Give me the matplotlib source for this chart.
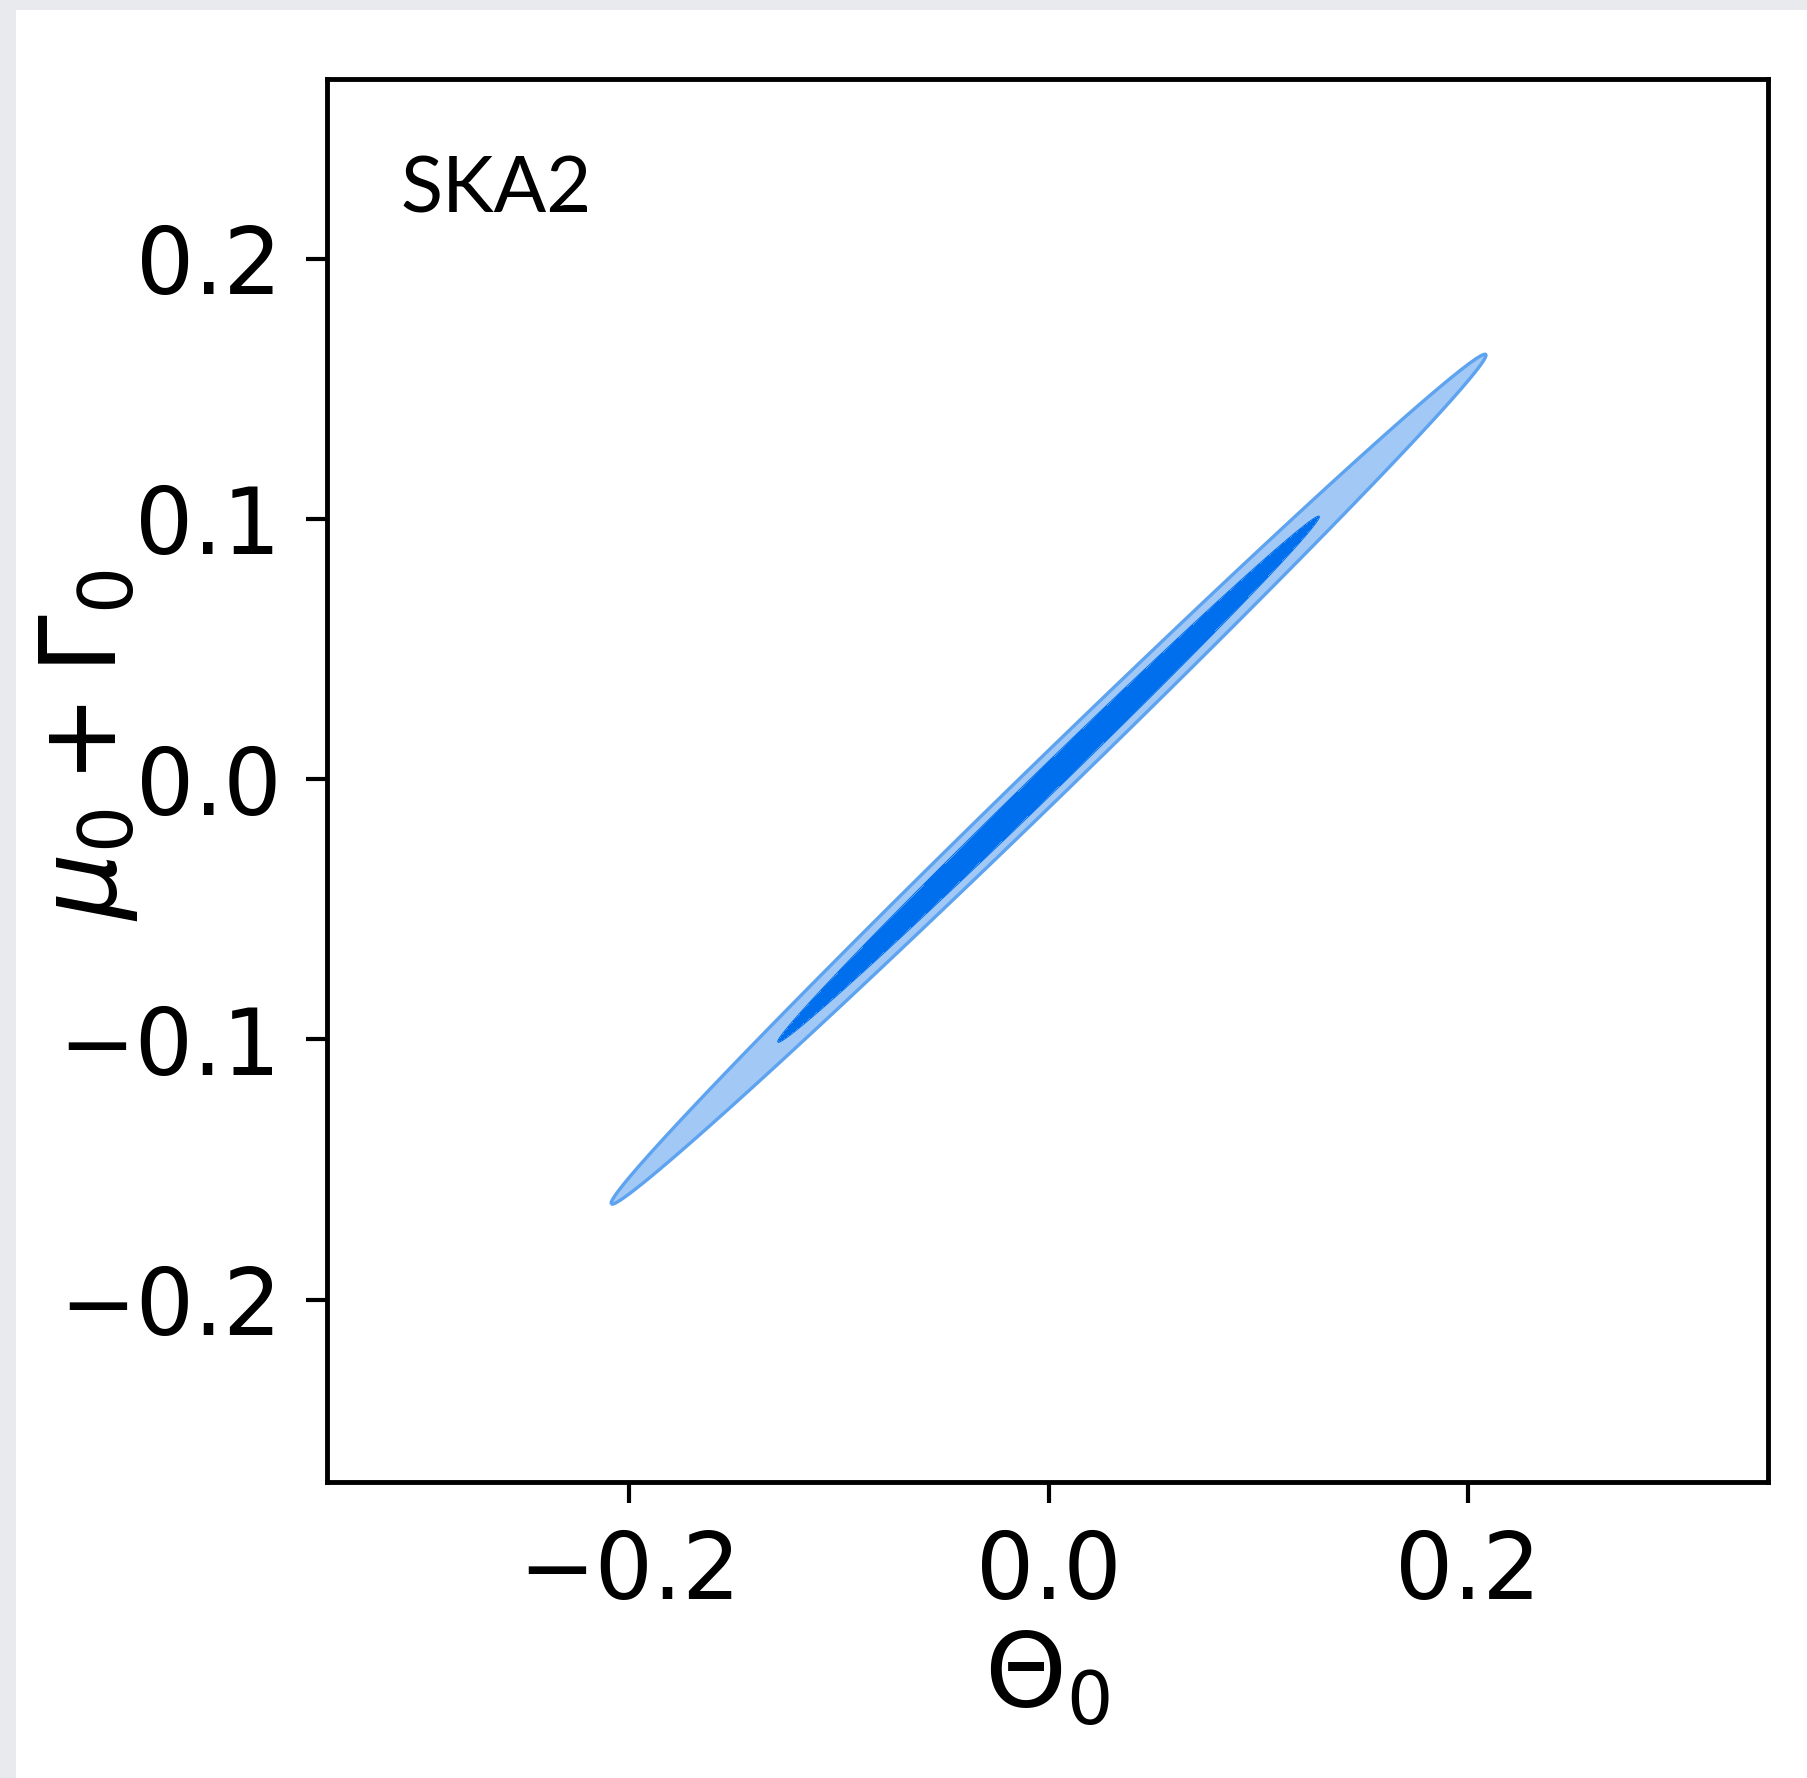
#!/usr/bin/env python3

import numpy as np
import matplotlib
matplotlib.use("Agg")
import matplotlib.pyplot as plt
from matplotlib.patches import Rectangle

# forecast (Fisher) constraint
center = [0.0, 0.0]          # Theta_0, mu_0 + Gamma_0
sigma_theta = 0.0852
sigma_mugamma = 0.0667
corr = 0.9977
chi2_levels = [0.0, 2.2958, 5.9915]   # 68% / 95% for 2 params

survey = "SKA2"
xticks = [-0.2, 0.0, 0.2]
yticks = [-0.2, -0.1, 0.0, 0.1, 0.2]
xlim = (-0.344, 0.343)
ylim = (-0.270, 0.269)

inner_color = "#006FED"
outer_color = "#a2c8f6"
edge_color = "#5ea3ef"


def chi2_grid(x, y):
    cov = np.array([[sigma_theta ** 2, corr * sigma_theta * sigma_mugamma],
                    [corr * sigma_theta * sigma_mugamma, sigma_mugamma ** 2]])
    icov = np.linalg.inv(cov)
    dx = x - center[0]
    dy = y - center[1]
    return icov[0, 0] * dx ** 2 + 2 * icov[0, 1] * dx * dy + icov[1, 1] * dy ** 2


def prepare_ax(ax):
    for sp in ax.spines.values():
        sp.set_linewidth(3.5)
    ax.tick_params(length=15, width=3.0, labelsize=66, pad=18)
    ax.set_xticks(xticks)
    ax.set_yticks(yticks)
    ax.set_xlim(*xlim)
    ax.set_ylim(*ylim)


def main():
    fig = plt.figure(figsize=(18.07, 17.78), dpi=100)
    fig.patch.set_facecolor("#e8eaee")
    fig.patches.append(Rectangle((16 / 1807, 0), 1, 1 - 10 / 1778,
                                 transform=fig.transFigure, facecolor="white",
                                 edgecolor="none", zorder=-10))

    ax = fig.add_axes([327 / 1807, 1 - 1482 / 1778,
                       (1768 - 327) / 1807, (1482 - 79) / 1778])
    ax.set_zorder(2)
    prepare_ax(ax)

    xs = np.linspace(-0.3, 0.3, 2400)
    ys = np.linspace(-0.25, 0.25, 2400)
    X, Y = np.meshgrid(xs, ys)
    Z = chi2_grid(X, Y)

    ax.contourf(X, Y, Z, levels=chi2_levels, colors=[inner_color, outer_color])
    ax.contour(X, Y, Z, levels=[chi2_levels[2]], colors=[edge_color], linewidths=2.4)
    ax.contour(X, Y, Z, levels=[chi2_levels[1]], colors=[inner_color], linewidths=0.8)

    ax.set_xlabel(r"$\Theta_0$", fontsize=75, labelpad=8)
    ax.set_ylabel(r"$\mu_0 + \Gamma_0$", fontsize=76)
    ax.yaxis.set_label_coords(-0.13, 0.525)

    ax.text(0.0507, 0.9045, survey, transform=ax.transAxes, fontsize=56,
            family="Lato", va="baseline", ha="left")

    fig.savefig("out.png", dpi=100, facecolor=fig.get_facecolor())


if __name__ == "__main__":
    main()
